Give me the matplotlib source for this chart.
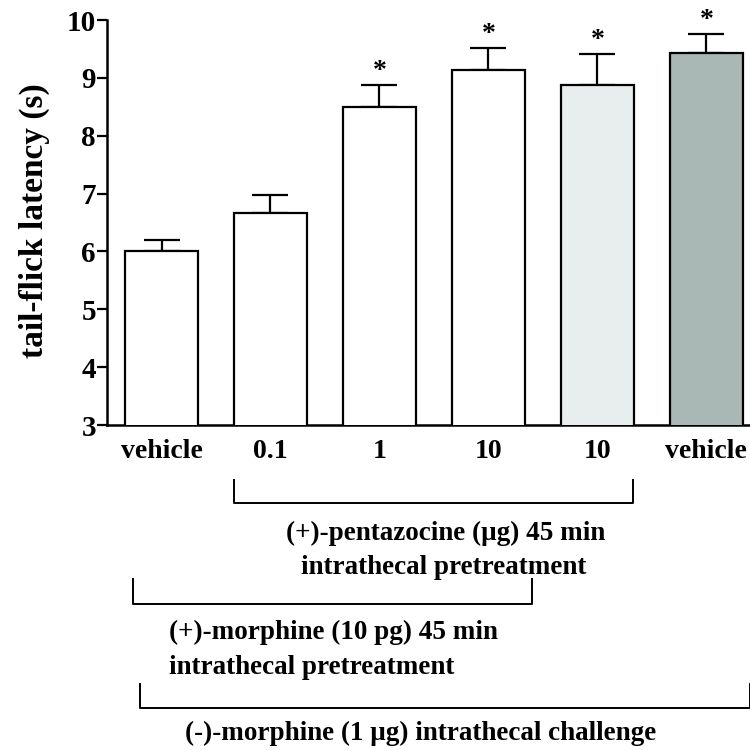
import numpy as np
import matplotlib.pyplot as plt
from matplotlib.transforms import blended_transform_factory

plt.rcParams['font.family'] = ['Liberation Serif', 'DejaVu Serif']
plt.rcParams['font.weight'] = 'bold'

# данные
labels = ['vehicle', '0.1', '1', '10', '10', 'vehicle']
latency = [6.0, 6.66, 8.5, 9.13, 8.88, 9.43]
sem = [0.19, 0.32, 0.38, 0.38, 0.53, 0.33]
significant = [False, False, True, True, True, True]
colors = ['white', 'white', 'white', 'white', '#e8eeed', '#a9b7b5']

# скобки под осью: (от, до по x в единицах столбцов, линия и верх засечек в пикселях сверху)
brackets = [
    (0.665, 4.33, 503, 480),
    (-0.26, 3.4, 604, 579),
    (-0.2, 5.4, 708, 684),
]

fig = plt.figure(figsize=(7.5, 7.5), dpi=100)
ax = fig.add_axes([0.1427, 0.4333, 0.8573, 0.54])

x = np.arange(len(latency))
ax.bar(x, latency, width=0.67, color=colors, edgecolor='black',
       linewidth=1.6, zorder=3)
ax.errorbar(x, latency, yerr=[np.zeros(len(sem)), sem], fmt='none',
            ecolor='black', elinewidth=1.6, capsize=13, capthick=1.6, zorder=2)
for xi, v, e, s in zip(x, latency, sem, significant):
    if s:
        ax.text(xi, v + e + 0.02, '*', ha='center', va='bottom', fontsize=20)

ax.set_ylim(3, 10)
ax.set_xlim(-0.5, 5.4)
ax.set_yticks(range(3, 11))
ax.tick_params(axis='y', labelsize=21, width=1.6, length=7, pad=1,
               direction='out')
ax.set_xticks(x)
ax.set_xticklabels(labels)
ax.tick_params(axis='x', length=0, labelsize=20, pad=10)
for side in ['top', 'right']:
    ax.spines[side].set_visible(False)
for side in ['left', 'bottom']:
    ax.spines[side].set_linewidth(1.8)

fig.text(34 / 750, 1 - 221 / 750, 'tail-flick latency (s)', rotation=90,
         ha='center', va='center', fontsize=24)

# скобки и подписи
tr = blended_transform_factory(ax.transData, fig.transFigure)
for x0, x1, yl, yt in brackets:
    yl = 1 - yl / 750
    yt = 1 - yt / 750
    ax.plot([x0, x0, x1, x1], [yt, yl, yl, yt], color='black', lw=1.4,
            transform=tr, clip_on=False)

fig.text(446 / 750, 1 - 533 / 750, '(+)-pentazocine (\u03bcg) 45 min',
         ha='center', va='center', fontsize=19.5)
fig.text(444 / 750, 1 - 568 / 750, 'intrathecal pretreatment',
         ha='center', va='center', fontsize=19.5)
fig.text(169 / 750, 1 - 632 / 750, '(+)-morphine (10 pg) 45 min',
         ha='left', va='center', fontsize=19.5)
fig.text(169 / 750, 1 - 668 / 750, 'intrathecal pretreatment',
         ha='left', va='center', fontsize=19.5)
fig.text(421 / 750, 1 - 733 / 750, '(-)-morphine (1 \u03bcg) intrathecal challenge',
         ha='center', va='center', fontsize=19.5)

fig.savefig('out.png', dpi=100)
